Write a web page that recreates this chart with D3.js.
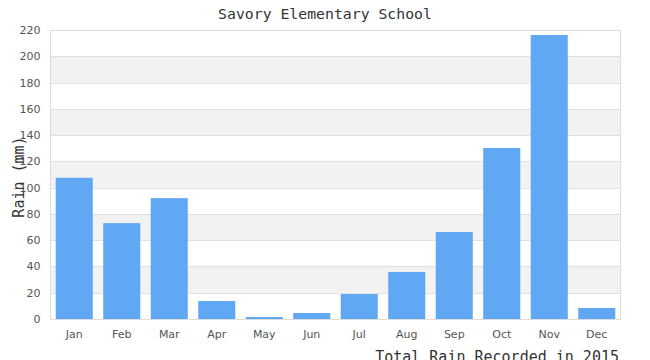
<!DOCTYPE html>
<html><head><meta charset="utf-8">
<script src="https://cdn.jsdelivr.net/npm/d3@7"></script>
<style>body{margin:0;background:#fff}svg{display:block}</style>
</head><body>
<script>
const months = ["Jan","Feb","Mar","Apr","May","Jun","Jul","Aug","Sep","Oct","Nov","Dec"];
const rain = [107.5, 73, 92, 13.7, 1.5, 4.6, 19, 35.8, 66.2, 130.2, 216.2, 8.4];
const yTicks = [0,20,40,60,80,100,120,140,160,180,200,220];
const title = "Savory Elementary School";
const yTitle = "Rain (mm)";
const xTitle = "Total Rain Recorded in 2015";

const W = 650, H = 360;
const m = {left: 50.5, right: 620.5, top: 30, bottom: 319};
const svg = d3.select("body").append("svg").attr("width", W).attr("height", H);

const x = d3.scaleBand().domain(months).range([m.left, m.right]).paddingInner(0.22).paddingOuter(0.11);
const y = d3.scaleLinear().domain([0, 220]).range([m.bottom, m.top]);

// alternating bands
svg.append("g").selectAll("rect").data(d3.pairs(yTicks).filter((p,i)=> i % 2 === 1))
  .join("rect").attr("x", m.left).attr("width", m.right - m.left)
  .attr("y", d => y(d[1])).attr("height", d => y(d[0]) - y(d[1])).attr("fill", "#f2f2f2");

// gridlines
svg.append("g").selectAll("line").data(yTicks).join("line")
  .attr("x1", m.left).attr("x2", m.right)
  .attr("y1", d => Math.round(y(d)) + 0.5).attr("y2", d => Math.round(y(d)) + 0.5)
  .attr("stroke", "#e0e0e0").attr("stroke-width", 1);

// frame
svg.append("rect").attr("x", m.left).attr("y", m.top + 0.5).attr("width", m.right - m.left)
  .attr("height", m.bottom - m.top).attr("fill", "none").attr("stroke", "#dcdcdc");

// bars
svg.append("g").selectAll("rect").data(months).join("rect")
  .attr("x", d => x(d)).attr("width", x.bandwidth())
  .attr("y", (d, i) => y(rain[i])).attr("height", (d, i) => y(0) - y(rain[i]))
  .attr("fill", "#60a8f4");

// y axis
const yAxis = d3.axisLeft(y).tickValues(yTicks).tickSize(0).tickPadding(10);
const gy = svg.append("g").attr("transform", `translate(${m.left},0)`).call(yAxis);
gy.select(".domain").remove();
gy.selectAll("text").attr("font-family", "DejaVu Sans, sans-serif").attr("font-size", 11).attr("fill", "#555");

// x axis
const xAxis = d3.axisBottom(x).tickSize(0).tickPadding(11);
const gx = svg.append("g").attr("transform", `translate(0,${m.bottom})`).call(xAxis);
gx.select(".domain").remove();
gx.selectAll("text").attr("font-family", "DejaVu Sans, sans-serif").attr("font-size", 11).attr("fill", "#555");

// titles
svg.append("text").attr("x", 325).attr("y", 19).attr("text-anchor", "middle")
  .attr("font-family", "DejaVu Sans Mono, monospace").attr("font-size", 14.8).attr("fill", "#333").text(title);
svg.append("text").attr("transform", "translate(24,177) rotate(-90)").attr("text-anchor", "middle")
  .attr("font-family", "DejaVu Sans Mono, monospace").attr("font-size", 15).attr("fill", "#333").text(yTitle);
svg.append("text").attr("x", 619).attr("y", 362).attr("text-anchor", "end")
  .attr("font-family", "DejaVu Sans Mono, monospace").attr("font-size", 15).attr("fill", "#333").text(xTitle);
</script>
</body></html>
